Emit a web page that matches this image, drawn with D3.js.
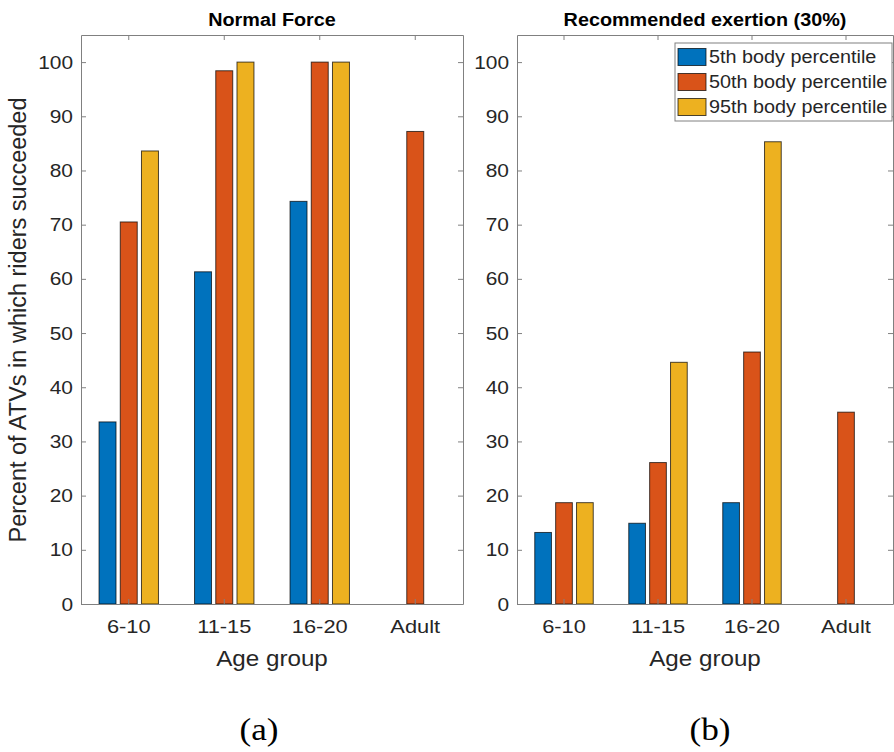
<!DOCTYPE html>
<html>
<head>
<meta charset="utf-8">
<script src="https://cdn.jsdelivr.net/npm/d3@7"></script>
<style>
  body { margin: 0; background: #fff; }
  svg { display: block; font-family: "Liberation Sans", Arial, sans-serif; }
</style>
</head>
<body>
<svg id="chart"></svg>
<script>
const svgWidth = 894;
const svgHeight = 752;

// data
const ageGroups = ["6-10", "11-15", "16-20", "Adult"];
const seriesNames = ["5th body percentile", "50th body percentile", "95th body percentile"];
const seriesColors = ["#0072BD", "#D95319", "#EDB120"];
const yTicks = [0, 10, 20, 30, 40, 50, 60, 70, 80, 90, 100];

// (a) Normal Force
const normal5th = [33.6, 61.3, 74.3, null];
const normal50th = [70.5, 98.4, 100, 87.2];
const normal95th = [83.6, 100, 100, null];

// (b) Recommended exertion (30%)
const recom5th = [13.2, 14.9, 18.7, null];
const recom50th = [18.7, 26.1, 46.5, 35.4];
const recom95th = [18.7, 44.6, 85.3, null];

const svg = d3.select("#chart")
    .attr("width", svgWidth)
    .attr("height", svgHeight);

const axisColor = "#808080";
const textColor = "#262626";

// widen text a little, the picture is slightly stretched sideways
function widen(sel, k = 1.1) {
    sel.each(function () {
        const w = this.getComputedTextLength();
        d3.select(this).attr("textLength", w * k).attr("lengthAdjust", "spacingAndGlyphs");
    });
}

function panel(opts) {
    const x0 = opts.left, x1 = opts.right, y0 = 35, y1 = 604;
    const g = svg.append("g");

    const x = d3.scaleBand().domain(ageGroups).range([x0, x1]).padding(0);
    const bw = x.bandwidth();
    const inner = d3.scaleBand().domain(seriesNames)
        .range([bw * (0.5 - 1 / 3), bw * (0.5 + 1 / 3)])
        .paddingInner(0.2).paddingOuter(0.1);
    const y = d3.scaleLinear().domain([0, 105]).range([y1, y0]);

    const rows = [];
    opts.series.forEach((vals, si) => {
        vals.forEach((v, ci) => {
            if (v != null) rows.push({ group: ageGroups[ci], name: seriesNames[si], color: seriesColors[si], value: v });
        });
    });

    g.append("g").selectAll("rect")
        .data(rows)
        .join("rect")
        .attr("x", d => x(d.group) + inner(d.name))
        .attr("y", d => y(d.value))
        .attr("width", inner.bandwidth())
        .attr("height", d => y(0) - y(d.value))
        .attr("fill", d => d.color)
        .attr("stroke", "#000")
        .attr("stroke-opacity", 0.7)
        .attr("stroke-width", 1);

    // axes box with inward ticks on all sides
    const left = g.append("g").attr("transform", `translate(${x0},0)`)
        .call(d3.axisLeft(y).tickValues(yTicks).tickSizeInner(-5).tickSizeOuter(0).tickPadding(8));
    const right = g.append("g").attr("transform", `translate(${x1},0)`)
        .call(d3.axisRight(y).tickValues(yTicks).tickSizeInner(-5).tickSizeOuter(0).tickFormat(""));
    const bottom = g.append("g").attr("transform", `translate(0,${y1})`)
        .call(d3.axisBottom(x).tickSizeInner(-5).tickSizeOuter(0).tickPadding(15.5));
    const top = g.append("g").attr("transform", `translate(0,${y0})`)
        .call(d3.axisTop(x).tickSizeInner(-5).tickSizeOuter(0).tickFormat(""));

    [left, right, bottom, top].forEach(a => {
        a.selectAll("path, line").attr("stroke", axisColor);
        a.selectAll("text").attr("fill", textColor).attr("font-size", 19)
            .attr("font-family", "Liberation Sans, Arial, sans-serif");
    });
    left.selectAll(".tick text").call(widen, 1.1);
    bottom.selectAll(".tick text").call(widen, 1.15);

    g.append("text")
        .attr("x", (x0 + x1) / 2)
        .attr("y", 26)
        .attr("text-anchor", "middle")
        .attr("font-size", 18)
        .attr("font-weight", "bold")
        .attr("fill", "#000")
        .text(opts.title)
        .call(widen);

    g.append("text")
        .attr("x", (x0 + x1) / 2)
        .attr("y", 666)
        .attr("text-anchor", "middle")
        .attr("font-size", 22)
        .attr("fill", textColor)
        .text("Age group")
        .call(widen);

    g.append("text")
        .attr("x", (x0 + x1) / 2 + opts.tagShift)
        .attr("y", 740)
        .attr("text-anchor", "middle")
        .attr("font-size", 32)
        .attr("font-family", "Liberation Serif, Times New Roman, serif")
        .attr("fill", "#000")
        .text(opts.tag)
        .call(widen);

    return { g, x, y };
}

panel({ left: 81, right: 463, title: "Normal Force", tag: "(a)", tagShift: -13,
        series: [normal5th, normal50th, normal95th] });
panel({ left: 517, right: 893, title: "Recommended exertion (30%)", tag: "(b)", tagShift: 5,
        series: [recom5th, recom50th, recom95th] });

// y axis label
svg.append("text")
    .attr("transform", "translate(26,320) rotate(-90)")
    .attr("text-anchor", "middle")
    .attr("font-size", 23.5)
    .attr("fill", textColor)
    .text("Percent of ATVs in which riders succeeded");

// legend
const legend = svg.append("g");
legend.append("rect")
    .attr("x", 675).attr("y", 43)
    .attr("width", 217).attr("height", 78)
    .attr("fill", "#fff")
    .attr("stroke", axisColor);

const rowY = d3.scalePoint().domain(seriesNames).range([57, 107]);
const item = legend.selectAll("g.item")
    .data(seriesNames)
    .join("g")
    .attr("class", "item");
item.append("rect")
    .attr("x", 678).attr("y", d => rowY(d) - 8.5)
    .attr("width", 28).attr("height", 17)
    .attr("fill", (d, i) => seriesColors[i])
    .attr("stroke", "#000").attr("stroke-opacity", 0.7);
item.append("text")
    .attr("x", 709).attr("y", d => rowY(d))
    .attr("dy", "0.36em")
    .attr("font-size", 18)
    .attr("fill", textColor)
    .text(d => d)
    .call(widen);
</script>
</body>
</html>
